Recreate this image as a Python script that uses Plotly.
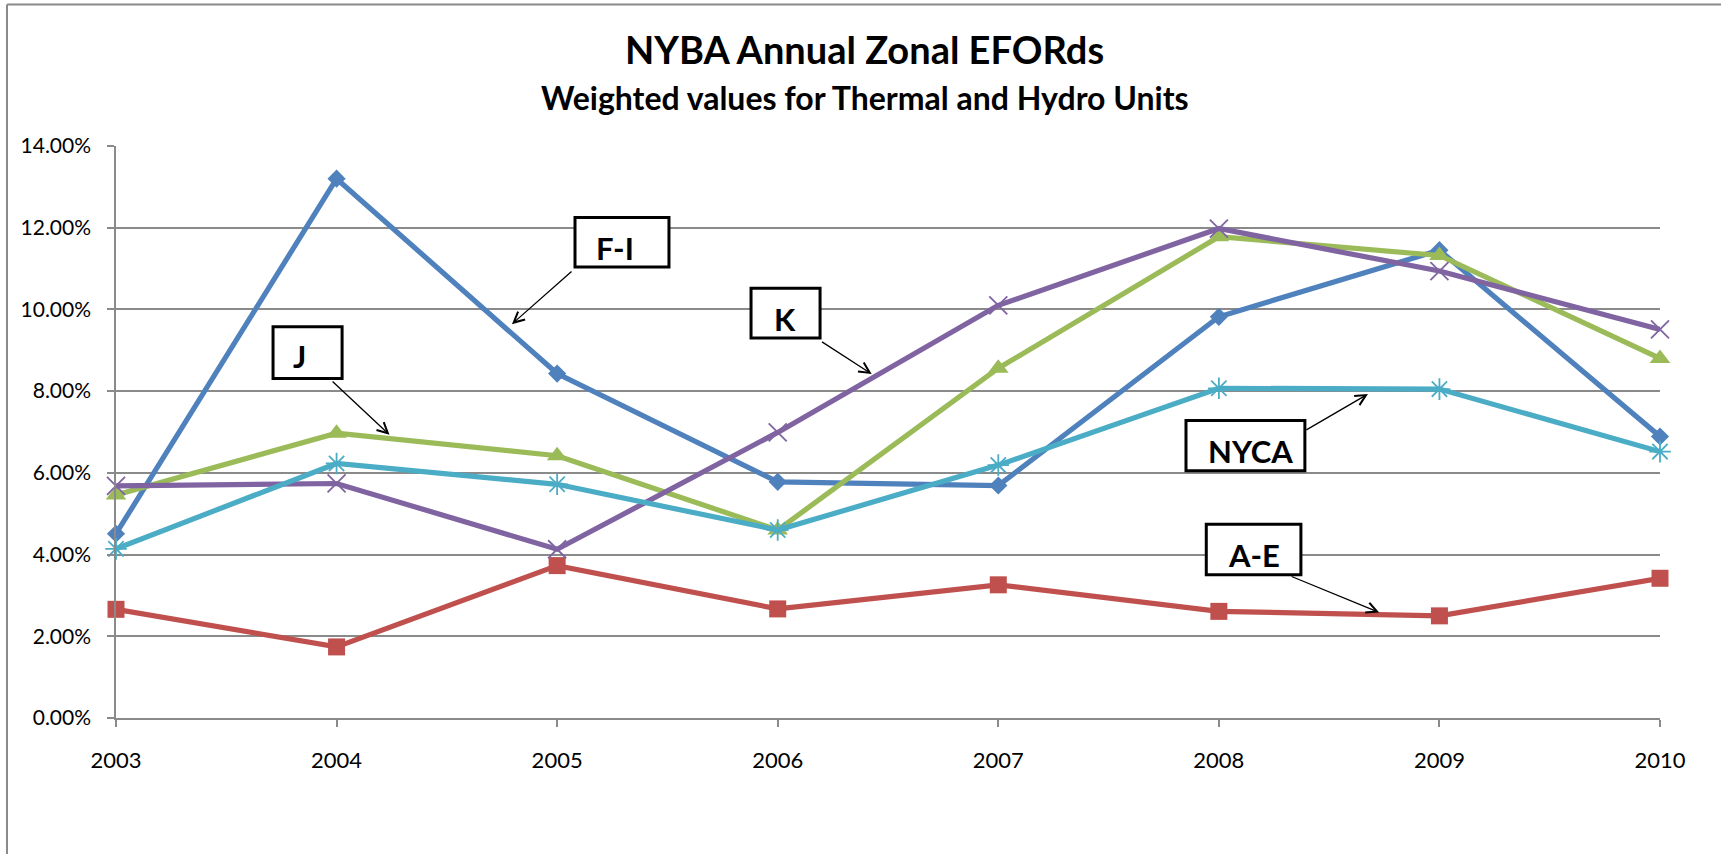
import plotly.graph_objects as go

years = [2003, 2004, 2005, 2006, 2007, 2008, 2009, 2010]
fi_vals = [4.51, 13.20, 8.43, 5.78, 5.69, 9.82, 11.45, 6.89]
ae_vals = [2.66, 1.74, 3.73, 2.67, 3.26, 2.61, 2.50, 3.42]
j_vals = [5.46, 6.97, 6.42, 4.60, 8.56, 11.78, 11.32, 8.80]
k_vals = [5.68, 5.74, 4.13, 6.99, 10.10, 11.98, 10.94, 9.51]
nyca_vals = [4.14, 6.23, 5.72, 4.60, 6.19, 8.07, 8.05, 6.52]
y_ticks = [0, 2, 4, 6, 8, 10, 12, 14]

FONT = "Lato"
GRID = "#8a8a8a"

series = [
    ("F-I", fi_vals, "#4F81BD", dict(symbol="diamond", size=14)),
    ("A-E", ae_vals, "#C0504D", dict(symbol="square", size=17)),
    ("J", j_vals, "#9BBB59", dict(symbol="triangle-up", size=18)),
    ("K", k_vals, "#8064A2", dict(symbol="x-thin", size=18, line=dict(width=1.8, color="#8064A2"))),
    ("NYCA", nyca_vals, "#4BACC6", dict(symbol="asterisk", size=18, line=dict(width=1.8, color="#4BACC6"))),
]

fig = go.Figure()
for name, vals, col, mk in series:
    m = dict(mk)
    m["color"] = col
    fig.add_trace(go.Scatter(x=years, y=vals, name=name, mode="lines+markers",
                             line=dict(color=col, width=5.2), marker=m, cliponaxis=False))

# label boxes: (text, box x0, x1, y0, y1, text x, text y, arrow start x, y, arrow tip x, y)
labels = [
    ("F-I", 2005.081, 2005.507, 11.04, 12.25, 2005.167, 11.50, 2005.072, 10.96, 2004.795, 9.64),
    ("K", 2005.879, 2006.192, 9.30, 10.52, 2005.974, 9.76, 2006.194, 9.23, 2006.426, 8.42),
    ("J", 2003.712, 2004.025, 8.31, 9.575, 2003.793, 8.85, 2003.975, 8.27, 2004.24, 6.93),
    ("NYCA", 2007.851, 2008.390, 6.05, 7.28, 2007.942, 6.535, 2008.390, 7.03, 2008.676, 7.93),
    ("A-E", 2007.943, 2008.372, 3.504, 4.743, 2008.031, 3.99, 2008.323, 3.479, 2008.727, 2.582),
]
shapes = []
annotations = []
for (t, bx0, bx1, by0, by1, tx, ty, sx, sy, ex, ey) in labels:
    shapes.append(dict(type="rect", xref="x", yref="y", x0=bx0, x1=bx1, y0=by0, y1=by1,
                       line=dict(color="black", width=3), fillcolor="white", layer="above"))
    annotations.append(dict(text="<b>%s</b>" % t, x=tx, y=ty, xref="x", yref="y",
                            xanchor="left", yanchor="middle", showarrow=False,
                            font=dict(family=FONT, size=31, color="black")))
    annotations.append(dict(text="", x=ex, y=ey, xref="x", yref="y", ax=sx, ay=sy,
                            axref="x", ayref="y", showarrow=True, arrowhead=5,
                            arrowsize=1.6, arrowwidth=1.3, arrowcolor="black", standoff=0))

annotations.append(dict(text="<b>NYBA Annual Zonal EFORds</b>", x=0.485, y=1.1695,
                        xref="paper", yref="paper", xanchor="center", yanchor="middle",
                        showarrow=False, font=dict(family=FONT, size=38, color="black")))
annotations.append(dict(text="<b>Weighted values for Thermal and Hydro Units</b>", x=0.485, y=1.0856,
                        xref="paper", yref="paper", xanchor="center", yanchor="middle",
                        showarrow=False, font=dict(family=FONT, size=32, color="black")))

# chart outer border (left and top edges)
shapes.append(dict(type="line", xref="paper", yref="paper", x0=-0.0706, x1=-0.0706, y0=-0.5, y1=1.2475,
                   line=dict(color="#8a8a8a", width=2)))
shapes.append(dict(type="line", xref="paper", yref="paper", x0=-0.0706, x1=1.2, y0=1.2475, y1=1.2475,
                   line=dict(color="#8a8a8a", width=2)))

fig.update_layout(
    width=1721, height=854,
    margin=dict(l=116, r=61, t=146, b=136),
    paper_bgcolor="white", plot_bgcolor="white",
    showlegend=False,
    font=dict(family=FONT, color="black"),
    shapes=shapes, annotations=annotations,
    xaxis=dict(range=[2003, 2010], tickmode="array", tickvals=years, ticktext=[str(y) for y in years],
               showgrid=False, zeroline=False, showline=True, linecolor=GRID, linewidth=2,
               ticks="outside", ticklen=7, tickwidth=1.5, tickcolor=GRID,
               tickfont=dict(family=FONT, size=22, color="black"), ticklabelstandoff=15),
    yaxis=dict(range=[0, 14], tickmode="array", tickvals=y_ticks,
               ticktext=["%.2f%%" % v for v in y_ticks],
               showgrid=True, gridcolor=GRID, gridwidth=1.5, zeroline=False,
               showline=True, linecolor=GRID, linewidth=1.5,
               ticks="outside", ticklen=7, tickwidth=1.5, tickcolor=GRID,
               tickfont=dict(family=FONT, size=21, color="black"), ticklabelstandoff=12),
)

fig.write_html("out.html", config={"displayModeBar": False},
               post_script="document.body.style.margin='0';document.body.style.overflow='hidden';")
